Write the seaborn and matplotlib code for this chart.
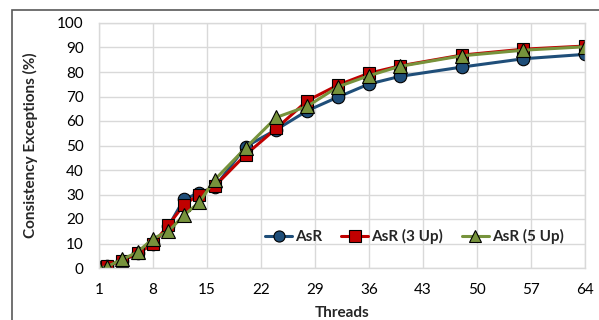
import matplotlib
matplotlib.use("Agg")
import matplotlib.pyplot as plt
import seaborn as sns
import pandas as pd
from matplotlib.patches import Rectangle

threads = [1, 2, 4, 6, 8, 10, 12, 14, 16, 20, 24, 28, 32, 36, 40, 48, 56, 64]
asr = [0.5, 0.8, 3, 6, 10, 17, 28, 30.7, 33, 49.5, 56.5, 64.2, 69.8, 75.1, 78.2, 82, 85.4, 87.2]
asr3 = [0, 0.8, 3, 6, 9.8, 17.5, 25.8, 30, 33.4, 46.2, 57, 68.3, 74.7, 79.5, 82.5, 86.9, 89.3, 90.6]
asr5 = [0, 0.5, 3.5, 6.5, 12, 15, 21.5, 26.8, 36, 49, 61.5, 66, 74, 78.5, 82.3, 86.6, 88.9, 90.3]
series_names = ["AsR", "AsR (3 Up)", "AsR (5 Up)"]
xticks = [1, 8, 15, 22, 29, 36, 43, 50, 57, 64]
yticks = list(range(0, 101, 10))

sns.set_theme(style="white")
plt.rcParams["font.family"] = ["Lato", "DejaVu Sans"]

df = pd.DataFrame({
    "Threads": threads * 3,
    "value": asr + asr3 + asr5,
    "series": [series_names[0]] * len(threads) + [series_names[1]] * len(threads) + [series_names[2]] * len(threads),
})

fig = plt.figure(figsize=(5.99, 3.2), dpi=100)
ax = fig.add_axes([99 / 599, 52 / 320, (585 - 99) / 599, (268 - 23) / 320])

colors = {"AsR": "#1F4E79", "AsR (3 Up)": "#C00000", "AsR (5 Up)": "#77933C"}
markers = {"AsR": "o", "AsR (3 Up)": "s", "AsR (5 Up)": "^"}
msizes = {"AsR": 9, "AsR (3 Up)": 8.5, "AsR (5 Up)": 9.5}
for name in series_names:
    sub = df[df["series"] == name]
    sns.lineplot(data=sub, x="Threads", y="value", ax=ax, color=colors[name],
                 marker=markers[name], markersize=msizes[name], markeredgecolor="black",
                 markeredgewidth=0.8, linewidth=2.2, label=name)

ax.set_xlim(1, 64)
ax.set_ylim(0, 100)
ax.set_xticks(xticks)
ax.set_yticks(yticks)
ax.grid(True, color="#D9D9D9", linewidth=1)
for s in ax.spines.values():
    s.set_color("#D9D9D9")
    s.set_linewidth(1)
ax.tick_params(axis="both", length=0, labelsize=11, colors="#000000")
ax.tick_params(axis="y", pad=11)
ax.tick_params(axis="x", pad=11)
ax.set_xlabel("Threads", fontsize=11, fontweight="bold", labelpad=6)
ax.set_ylabel("Consistency Exceptions (%)", fontsize=11, fontweight="bold", labelpad=14)

leg = ax.legend(loc="lower right", bbox_to_anchor=(0.985, 0.04), ncol=3, frameon=False,
                handlelength=1.8, handletextpad=0.2, columnspacing=1.2,
                prop={"weight": "bold", "size": 11})
for h in leg.legend_handles:
    h.set_markersize(8)

fig.patches.append(Rectangle((12 / 599, -0.1), 1.0, (320 - 10) / 320 + 0.1,
                             transform=fig.transFigure, fill=False,
                             edgecolor="#595959", linewidth=1.2))

fig.savefig("out.png", dpi=100)
